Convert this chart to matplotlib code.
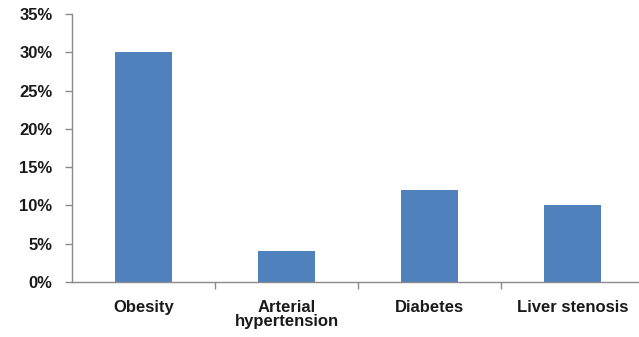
import matplotlib
matplotlib.use("Agg")
import matplotlib.pyplot as plt
from matplotlib.ticker import FuncFormatter, FixedLocator

categories = ["Obesity", "Arterial\nhypertension", "Diabetes", "Liver stenosis"]
values = [30, 4, 12, 10]

W, H = 639, 337
fig = plt.figure(figsize=(W/100, H/100), dpi=100)
left, right, top, bottom = 72, 644, 14, 282
ax = fig.add_axes([left/W, 1-bottom/H, (right-left)/W, (bottom-top)/H])

x = list(range(len(categories)))
ax.bar(x, values, width=0.4, color="#4F81BD", zorder=2)
ax.set_xlim(-0.5, len(categories)-0.5)
ax.set_ylim(0, 35)
ax.set_yticks(range(0, 36, 5))
ax.yaxis.set_major_formatter(FuncFormatter(lambda v, p: f"{int(v)}%"))
ax.set_xticks(x)
ax.set_xticklabels(categories)
ax.xaxis.set_minor_locator(FixedLocator([i+0.5 for i in range(len(categories))]))

for s in ["top", "right"]:
    ax.spines[s].set_visible(False)
for s in ["left", "bottom"]:
    ax.spines[s].set_color("#8a8a8a")
    ax.spines[s].set_linewidth(1.0)

ax.tick_params(axis="y", length=5, width=1, color="#8a8a8a", pad=9)
ax.tick_params(axis="x", which="major", length=0, pad=13)
ax.tick_params(axis="x", which="minor", length=5, width=1, color="#8a8a8a", direction="out")

for lab in ax.get_yticklabels() + ax.get_xticklabels():
    lab.set_fontfamily("Liberation Sans")
    lab.set_fontweight("bold")
    lab.set_fontsize(12)
    lab.set_color("#1a1a1a")
for lab in ax.get_xticklabels():
    lab.set_verticalalignment("top")
    lab.set_linespacing(0.95)

fig.savefig("out.png", dpi=100)
